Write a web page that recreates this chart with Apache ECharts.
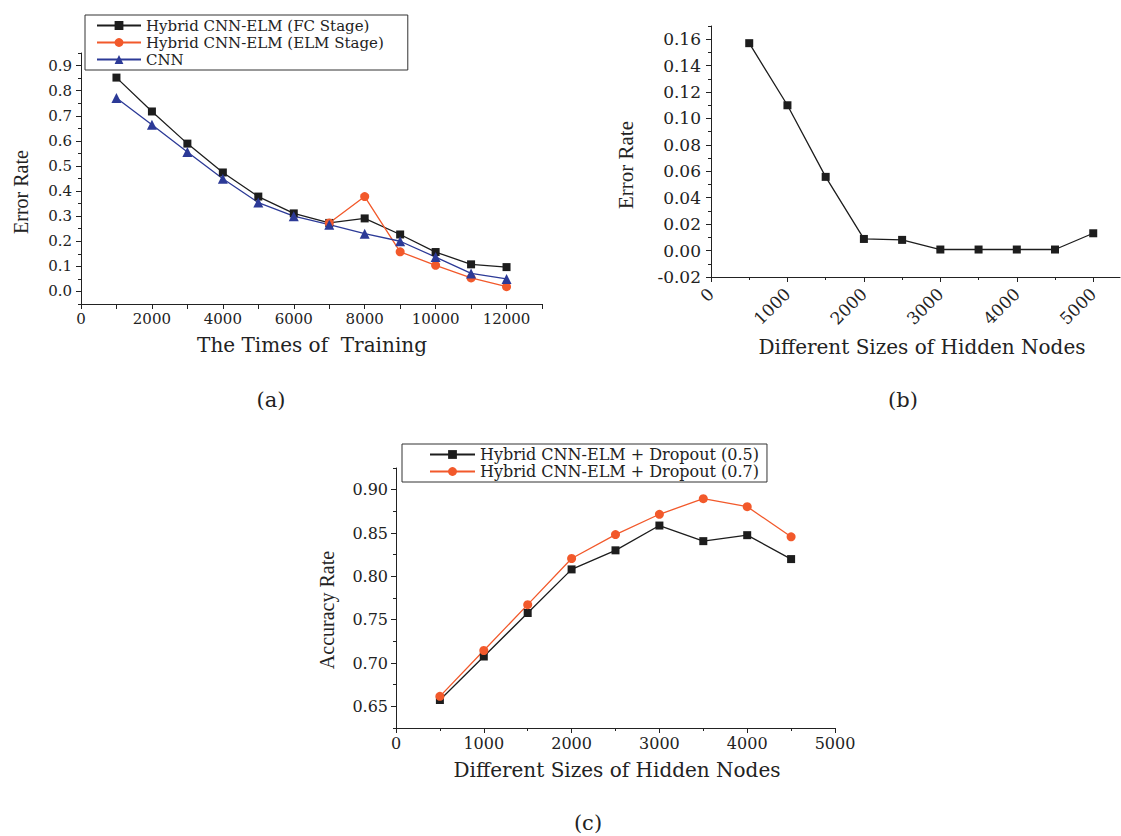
<!DOCTYPE html>
<html>
<head>
<meta charset="utf-8">
<script src="https://cdn.jsdelivr.net/npm/echarts@6/dist/echarts.min.js"></script>
<style>html,body{margin:0;padding:0;background:#fff}#c{width:1121px;height:836px}</style>
</head>
<body>
<div id="c"></div>
<script>
// ---------- Panel (a) ----------
var trainTimes = [1000, 2000, 3000, 4000, 5000, 6000, 7000, 8000, 9000, 10000, 11000, 12000];
var fcStage   = [0.852, 0.717, 0.589, 0.474, 0.378, 0.311, 0.273, 0.291, 0.227, 0.157, 0.108, 0.097];
var elmStage  = [null, null, null, null, null, null, 0.273, 0.378, 0.158, 0.104, 0.054, 0.019];
var cnnErr    = [0.771, 0.664, 0.556, 0.449, 0.354, 0.300, 0.266, 0.230, 0.200, 0.137, 0.072, 0.050];
var aXTicks = [0, 1000, 2000, 3000, 4000, 5000, 6000, 7000, 8000, 9000, 10000, 11000, 12000, 13000];
var aXLabels = [0, 2000, 4000, 6000, 8000, 10000, 12000];
var aYLabels = [0.0, 0.1, 0.2, 0.3, 0.4, 0.5, 0.6, 0.7, 0.8, 0.9];
var aYMinor = [-0.05, 0.05, 0.15, 0.25, 0.35, 0.45, 0.55, 0.65, 0.75, 0.85, 0.95];

// ---------- Panel (b) ----------
var hiddenB = [500, 1000, 1500, 2000, 2500, 3000, 3500, 4000, 4500, 5000];
var errB    = [0.157, 0.110, 0.0558, 0.0088, 0.0081, 0.0008, 0.0008, 0.0008, 0.0008, 0.0131];
var bXLabels = [0, 1000, 2000, 3000, 4000, 5000];
var bXMinor = [500, 1500, 2500, 3500, 4500];
var bYLabels = [-0.02, 0.00, 0.02, 0.04, 0.06, 0.08, 0.10, 0.12, 0.14, 0.16];
var bYMinor = [-0.01, 0.01, 0.03, 0.05, 0.07, 0.09, 0.11, 0.13, 0.15, 0.17];

// ---------- Panel (c) ----------
var hiddenC   = [500, 1000, 1500, 2000, 2500, 3000, 3500, 4000, 4500];
var dropout05 = [0.6573, 0.7075, 0.7577, 0.8080, 0.8300, 0.8586, 0.8406, 0.8475, 0.8199];
var dropout07 = [0.6615, 0.7144, 0.7673, 0.8206, 0.8482, 0.8716, 0.8896, 0.8804, 0.8456];
var cXLabels = [0, 1000, 2000, 3000, 4000, 5000];
var cXMinor = [500, 1500, 2500, 3500, 4500];
var cYLabels = [0.65, 0.70, 0.75, 0.80, 0.85, 0.90];
var cYMinor = [0.625, 0.675, 0.725, 0.775, 0.825, 0.875, 0.925];

var BLACK = '#1d1d1d', ORANGE = '#f2592b', BLUE = '#2c3a97', AX = '#222';
var SERIF = 'DejaVu Serif', TIMES = 'Liberation Serif';

function pairs(xs, ys) { return xs.map(function (x, i) { return [x, ys[i]]; }); }

function mainAxis(dim, grid, min, max, labels, fmt, fontSize, margin, extra) {
  var ax = {
    type: 'value', gridIndex: grid, min: min, max: max,
    position: dim === 'x' ? 'bottom' : 'left',
    splitLine: { show: false },
    axisLine: { show: true, onZero: false, lineStyle: { color: AX, width: 1 } },
    axisTick: { show: true, length: 5, customValues: labels.slice(), lineStyle: { color: AX, width: 1 } },
    axisLabel: { show: true, customValues: labels.slice(), formatter: fmt, fontFamily: SERIF, fontSize: fontSize,
                 color: '#222', margin: margin, showMinLabel: true, showMaxLabel: true, hideOverlap: false }
  };
  if (extra) { for (var k in extra.axisLabel || {}) ax.axisLabel[k] = extra.axisLabel[k]; }
  return ax;
}
function minorAxis(dim, grid, min, max, ticks) {
  return {
    type: 'value', gridIndex: grid, min: min, max: max,
    position: dim === 'x' ? 'bottom' : 'left',
    splitLine: { show: false },
    axisLine: { show: false, onZero: false },
    axisTick: { show: true, length: 3, customValues: ticks.slice(), lineStyle: { color: AX, width: 1 } },
    axisLabel: { show: false }
  };
}

var xAxes = [
  mainAxis('x', 0, 0, 13000, aXTicks, function (v) { return (v % 2000 === 0 && v <= 12000) ? String(v) : ''; }, 15, 7),
  mainAxis('x', 1, 0, 5350, bXLabels, function (v) { return String(v); }, 17, 14, { axisLabel: { rotate: 45 } }),
  minorAxis('x', 1, 0, 5350, bXMinor),
  mainAxis('x', 2, 0, 5000, cXLabels, function (v) { return String(v); }, 16, 7),
  minorAxis('x', 2, 0, 5000, cXMinor)
];
var yAxes = [
  mainAxis('y', 0, -0.05, 0.95, aYLabels, function (v) { return v.toFixed(1); }, 15, 9),
  minorAxis('y', 0, -0.05, 0.95, aYMinor),
  mainAxis('y', 1, -0.02, 0.17, bYLabels, function (v) { return v.toFixed(2); }, 17, 10),
  minorAxis('y', 1, -0.02, 0.17, bYMinor),
  mainAxis('y', 2, 0.625, 0.925, cYLabels, function (v) { return v.toFixed(2); }, 16, 8),
  minorAxis('y', 2, 0.625, 0.925, cYMinor)
];

function lineSeries(name, xi, yi, data, color, symbol, size) {
  return {
    name: name, type: 'line', xAxisIndex: xi, yAxisIndex: yi, data: data,
    symbol: symbol, symbolSize: size, showAllSymbol: true, connectNulls: false,
    lineStyle: { color: color, width: 1.3 }, itemStyle: { color: color, borderWidth: 0 },
    emphasis: { disabled: true }, z: 3
  };
}

var option = {
  animation: false,
  backgroundColor: '#fff',
  grid: [
    { left: 81, top: 53, width: 461, height: 251, containLabel: false, outerBoundsMode: 'none' },
    { left: 711, top: 26, width: 409, height: 251, containLabel: false, outerBoundsMode: 'none' },
    { left: 396, top: 468, width: 439, height: 260, containLabel: false, outerBoundsMode: 'none' }
  ],
  xAxis: xAxes,
  yAxis: yAxes,
  legend: [
    {
      data: ['Hybrid CNN-ELM (FC Stage)', 'Hybrid CNN-ELM (ELM Stage)', 'CNN'],
      orient: 'vertical', left: 85, top: 15, itemWidth: 44, itemHeight: 11, itemGap: 0,
      padding: [2, 24, 2, 11], borderColor: '#333', borderWidth: 1,
      textStyle: { fontFamily: SERIF, fontSize: 15, color: '#222', lineHeight: 17 }, selectedMode: false
    },
    {
      data: ['Hybrid CNN-ELM + Dropout (0.5)', 'Hybrid CNN-ELM + Dropout (0.7)'],
      orient: 'vertical', left: 402, top: 444, itemWidth: 45, itemHeight: 11, itemGap: 0,
      padding: [2, 8, 2, 27], borderColor: '#333', borderWidth: 1,
      textStyle: { fontFamily: SERIF, fontSize: 16, color: '#222', lineHeight: 17 }, selectedMode: false
    }
  ],
  series: [
    lineSeries('Hybrid CNN-ELM (FC Stage)', 0, 0, pairs(trainTimes, fcStage), BLACK, 'rect', 8),
    lineSeries('Hybrid CNN-ELM (ELM Stage)', 0, 0, pairs(trainTimes, elmStage), ORANGE, 'circle', 9),
    lineSeries('CNN', 0, 0, pairs(trainTimes, cnnErr), BLUE, 'triangle', 10),
    lineSeries('Error Rate (b)', 1, 2, pairs(hiddenB, errB), BLACK, 'rect', 8),
    lineSeries('Hybrid CNN-ELM + Dropout (0.5)', 3, 4, pairs(hiddenC, dropout05), BLACK, 'rect', 8),
    lineSeries('Hybrid CNN-ELM + Dropout (0.7)', 3, 4, pairs(hiddenC, dropout07), ORANGE, 'circle', 9)
  ],
  graphic: [
    { type: 'text', x: 21, y: 192, rotation: Math.PI / 2, style: { text: 'Error Rate', fontFamily: TIMES, fontSize: 20, fill: '#222', align: 'center', verticalAlign: 'middle' } },
    { type: 'text', x: 312, y: 345, style: { text: 'The Times of  Training', fontFamily: SERIF, fontSize: 20, fill: '#222', align: 'center', verticalAlign: 'middle' } },
    { type: 'text', x: 626, y: 165, rotation: Math.PI / 2, style: { text: 'Error Rate', fontFamily: TIMES, fontSize: 21, fill: '#222', align: 'center', verticalAlign: 'middle' } },
    { type: 'text', x: 922, y: 347, style: { text: 'Different Sizes of Hidden Nodes', fontFamily: SERIF, fontSize: 20, fill: '#222', align: 'center', verticalAlign: 'middle' } },
    { type: 'text', x: 327, y: 610, rotation: Math.PI / 2, style: { text: 'Accuracy Rate', fontFamily: TIMES, fontSize: 20, fill: '#222', align: 'center', verticalAlign: 'middle' } },
    { type: 'text', x: 617, y: 770, style: { text: 'Different Sizes of Hidden Nodes', fontFamily: SERIF, fontSize: 20, fill: '#222', align: 'center', verticalAlign: 'middle' } },
    { type: 'text', x: 271, y: 400, style: { text: '(a)', fontFamily: SERIF, fontSize: 21, fill: '#222', align: 'center', verticalAlign: 'middle' } },
    { type: 'text', x: 903, y: 400, style: { text: '(b)', fontFamily: SERIF, fontSize: 21, fill: '#222', align: 'center', verticalAlign: 'middle' } },
    { type: 'text', x: 588, y: 823, style: { text: '(c)', fontFamily: SERIF, fontSize: 21, fill: '#222', align: 'center', verticalAlign: 'middle' } }
  ]
};

var chart = echarts.init(document.getElementById('c'), null, { renderer: 'svg', width: 1121, height: 836 });
chart.setOption(option);
</script>
</body>
</html>
